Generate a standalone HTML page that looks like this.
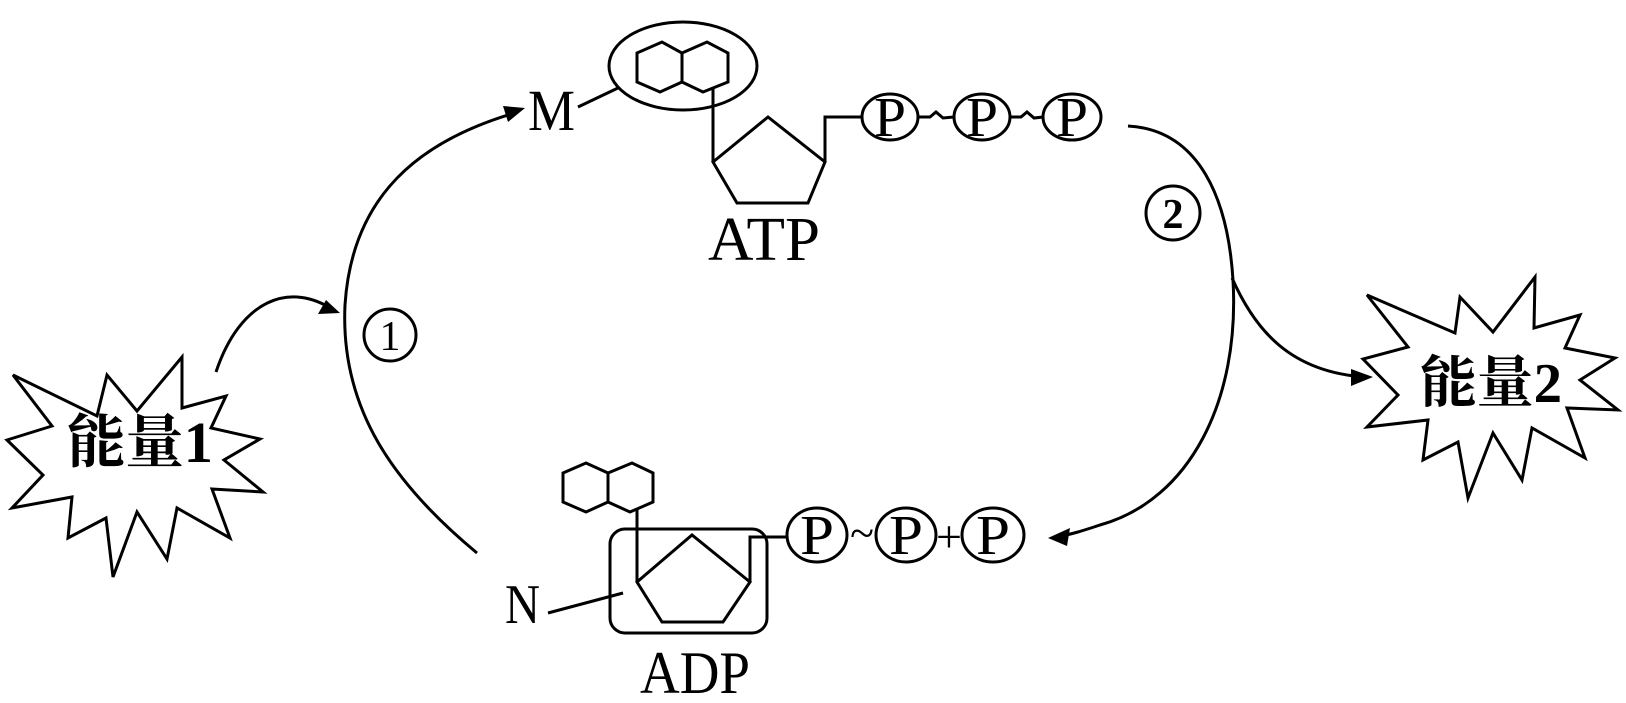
<!DOCTYPE html>
<html><head><meta charset="utf-8"><style>html,body{margin:0;padding:0;background:#fff}svg{display:block}</style></head>
<body>
<svg width="1626" height="703" viewBox="0 0 1626 703" xmlns="http://www.w3.org/2000/svg" font-family="'Liberation Serif','Noto Serif CJK SC',serif">
<g fill="none" stroke="#000" stroke-width="3" stroke-linejoin="miter">
<!-- starburst 1 -->
<polygon points="13,375 97,416 107,375 137,411 182,357 182,408 226,396 211,428 260,439 224,460 263,492 212,489 230,538 177,508 167,559 137,512 113,577 106,518 68,538 72,497 12,508 43,475 7,440 52,426"/>
<!-- starburst 2 -->
<polygon points="1367,295 1455,333 1460,297 1493,332 1535,277 1534,328 1580,315 1565,348 1615,358 1580,380 1618,410 1567,408 1585,458 1532,428 1522,480 1493,433 1468,498 1458,442 1423,460 1428,420 1367,427 1398,395 1363,359 1408,347"/>
<!-- energy1 arrow -->
<path d="M216,372 C 240,300 290,280 335,311"/>
<!-- big left arc -->
<path d="M477,553 C 395,485 340,410 345,305 C 352,195 420,140 518,112"/>
<!-- big right arc -->
<path d="M1128,126 C 1200,130 1228,200 1233,280 C 1240,400 1190,500 1100,525 C 1085,530 1070,535 1055,537"/>
<!-- branch to energy2 -->
<path d="M1232,278 C 1255,330 1290,372 1365,377"/>
<!-- circles 1 and 2 -->
<circle cx="390" cy="335" r="26"/>
<circle cx="1173" cy="213" r="27"/>
<!-- ATP -->
<ellipse cx="683" cy="66" rx="74" ry="44"/>
<line x1="578" y1="107" x2="618" y2="88"/>
<polygon points="637,53 662,42 682,53 682,82 660,92 637,82"/>
<polygon points="682,53 707,42 728,53 728,82 703,92 682,82"/>
<polyline points="713,88 713,162"/>
<polygon points="713,162 768,117 825,162 808,203 737,203"/>
<polyline points="825,162 825,117 862,117"/>
<ellipse cx="890" cy="117" rx="28" ry="23"/>
<ellipse cx="982" cy="117" rx="28" ry="23"/>
<ellipse cx="1072" cy="117" rx="29" ry="23"/>
<path d="M918,117 L930,117 L936,112 L943,118 L954,117"/>
<path d="M1010,117 L1021,117 L1027,112 L1034,118 L1043,117"/>
<!-- ADP -->
<polygon points="563,473 586,463 608,473 608,502 586,512 563,502"/>
<polygon points="608,473 632,463 653,473 653,502 630,512 608,502"/>
<line x1="637" y1="508" x2="637" y2="582"/>
<polygon points="637,582 692,535 750,582 723,622 662,622"/>
<polyline points="750,582 750,537 787,537"/>
<rect x="610" y="529" width="157" height="104" rx="15"/>
<line x1="548" y1="613" x2="623" y2="593"/>
<ellipse cx="817" cy="535" rx="30" ry="27"/>
<ellipse cx="906" cy="535" rx="30" ry="27"/>
<ellipse cx="993" cy="535" rx="31" ry="27"/>
</g>
<!-- arrowheads -->
<g fill="#000">
<polygon points="340,313 318,314 326,300"/>
<polygon points="525,108 503,106 508,122"/>
<polygon points="1048,538 1070,528 1067,546"/>
<polygon points="1373,377 1351,369 1351,386"/>
</g>
<!-- text -->
<g fill="#000">
<text x="140" y="462" font-size="58" font-weight="bold" text-anchor="middle" textLength="146" lengthAdjust="spacingAndGlyphs" font-family="'Liberation Serif','Noto Serif CJK SC',serif">能量1</text>
<text x="1491" y="402" font-size="56" font-weight="bold" text-anchor="middle" textLength="142" lengthAdjust="spacingAndGlyphs" font-family="'Liberation Serif','Noto Serif CJK SC',serif">能量2</text>
<text x="390" y="350" font-size="42" text-anchor="middle">1</text>
<text x="1173" y="228" font-size="42" text-anchor="middle" font-weight="bold">2</text>
<text x="528" y="130" font-size="58" textLength="47" lengthAdjust="spacingAndGlyphs">M</text>
<text x="505" y="623" font-size="56" textLength="35" lengthAdjust="spacingAndGlyphs">N</text>
<text x="708" y="260" font-size="62" textLength="112" lengthAdjust="spacingAndGlyphs">ATP</text>
<text x="640" y="693" font-size="60" textLength="110" lengthAdjust="spacingAndGlyphs">ADP</text>
<g font-size="56" text-anchor="middle">
<text x="890" y="136" textLength="32" lengthAdjust="spacingAndGlyphs">P</text>
<text x="982" y="136" textLength="32" lengthAdjust="spacingAndGlyphs">P</text>
<text x="1072" y="136" textLength="32" lengthAdjust="spacingAndGlyphs">P</text>
<text x="817" y="554" textLength="34" lengthAdjust="spacingAndGlyphs">P</text>
<text x="906" y="554" textLength="34" lengthAdjust="spacingAndGlyphs">P</text>
<text x="993" y="554" textLength="34" lengthAdjust="spacingAndGlyphs">P</text>
</g>
<text x="862" y="548" font-size="44" text-anchor="middle">~</text>
<text x="949" y="552" font-size="46" text-anchor="middle">+</text>
</g>
</svg>
</body></html>
